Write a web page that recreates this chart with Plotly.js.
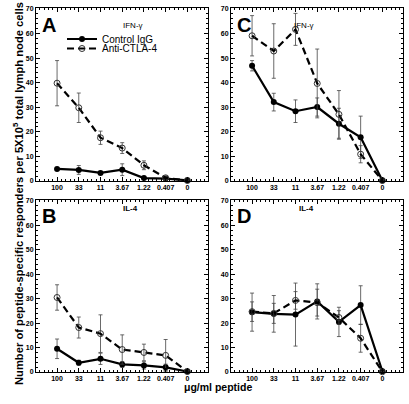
<!DOCTYPE html>
<html><head><meta charset="utf-8">
<script src="https://cdn.plot.ly/plotly-3.0.1.min.js"></script>
<style>html,body{margin:0;padding:0;background:#fff}#g{width:409px;height:404px}</style>
</head><body><div id="g"></div>
<script>
const conc = ['100','33','11','3.67','1.22','0.407','0'];
const idx = [0,1,2,3,4,5,6];
// Panel A: IFN-gamma (left)
const A_ctrl = [4.9, 4.5, 3.3, 4.6, 1.2, 1.0, 0.3];
const A_ctrl_err = [0.6, 1.8, 0.6, 2.4, 0.5, 0.5, 0.2];
const A_anti = [39.8, 29.8, 17.6, 13.4, 6.4, 1.3, 0.2];
const A_anti_err = [9.2, 6.0, 2.7, 2.2, 1.8, 0.6, 0.2];
// Panel C: IFN-gamma (right)
const C_ctrl = [46.9, 32.1, 28.4, 30.1, 23.3, 17.8, 0.2];
const C_ctrl_err = [2.1, 3.6, 4.6, 3.7, 6.3, 8.6, 0.3];
const C_anti = [59.1, 52.9, 61.7, 39.7, 27.1, 10.9, 0.2];
const C_anti_err = [8.2, 11.1, 6.5, 14.0, 9.7, 3.5, 0.3];
// Panel B: IL-4 (left)
const B_ctrl = [9.5, 3.8, 5.4, 3.1, 2.7, 1.9, 0.2];
const B_ctrl_err = [4.0, 1.0, 2.3, 1.2, 1.5, 1.3, 0.2];
const B_anti = [30.5, 18.2, 15.7, 9.2, 8.0, 6.8, 0.2];
const B_anti_err = [5.2, 4.3, 7.7, 6.0, 3.4, 6.5, 0.3];
// Panel D: IL-4 (right)
const D_ctrl = [24.5, 23.8, 23.5, 28.9, 20.5, 27.4, 0.3];
const D_ctrl_err = [7.8, 7.5, 12.9, 7.2, 6.0, 7.9, 0.3];
const D_anti = [24.7, 24.0, 29.3, 28.4, 22.3, 13.8, 0.1];
const D_anti_err = [4.0, 4.1, 3.6, 5.5, 2.8, 5.7, 0.2];

const panels = [
  {ctrl:A_ctrl, ce:A_ctrl_err, anti:A_anti, ae:A_anti_err, xa:'x', ya:'y'},
  {ctrl:C_ctrl, ce:C_ctrl_err, anti:C_anti, ae:C_anti_err, xa:'x2', ya:'y2'},
  {ctrl:B_ctrl, ce:B_ctrl_err, anti:B_anti, ae:B_anti_err, xa:'x3', ya:'y3'},
  {ctrl:D_ctrl, ce:D_ctrl_err, anti:D_anti, ae:D_anti_err, xa:'x4', ya:'y4'}
];
const errStyle = (arr)=>({type:'data', array:arr, visible:true, color:'#444', thickness:0.8, width:2});
const traces = [];
panels.forEach((p,i)=>{
  traces.push({x:idx, y:p.ctrl, xaxis:p.xa, yaxis:p.ya, type:'scatter', mode:'lines+markers',
    name:'Control IgG', showlegend:i===0, legend:'legend',
    line:{color:'#000', width:2.2}, marker:{symbol:'circle', size:6, color:'#000'},
    error_y:errStyle(p.ce), cliponaxis:false});
  traces.push({x:idx, y:p.anti, xaxis:p.xa, yaxis:p.ya, type:'scatter', mode:'lines+markers',
    name:'Anti-CTLA-4', showlegend:i===0, legend:'legend2',
    line:{color:'#000', width:2.2, dash:'7px,4px'}, marker:{symbol:'circle-open', size:6, color:'#333', line:{width:1}},
    error_y:errStyle(p.ae), cliponaxis:false});
});

const W = 367, H = 364, L = 36, T = 8;
const px = v => (v - L) / W;
const py = v => (T + H - v) / H;
const FF = 'Liberation Sans, Arial, sans-serif';

const xbase = {range:[-0.97, 6.95], tickmode:'array', tickvals:idx, ticktext:conc,
  showline:true, linecolor:'#000', linewidth:1, mirror:'ticks', ticks:'inside', ticklen:4, tickcolor:'#000',
  minor:{tickmode:'linear', tick0:0, dtick:0.2, ticks:'inside', ticklen:2, tickcolor:'#000'},
  showgrid:false, zeroline:false, tickfont:{family:FF, size:7, color:'#000', weight:'bold'}};
const ybase = {range:[0, 70.4], tickvals:[0,10,20,30,40,50,60,70],
  showline:true, linecolor:'#000', linewidth:1, mirror:'ticks', ticks:'inside', ticklen:4, tickcolor:'#000',
  minor:{tickmode:'linear', tick0:0, dtick:2, ticks:'inside', ticklen:2, tickcolor:'#000'},
  showgrid:false, zeroline:false, tickfont:{family:FF, size:7, color:'#000', weight:'bold'}};

const dxA = [px(36), px(208)], dxC = [px(231), px(403)];
const dyTop = [py(181), py(8)], dyBot = [py(372), py(200)];
const legBase = {xanchor:'left', yanchor:'middle', bgcolor:'rgba(0,0,0,0)',
    font:{family:FF, size:10, color:'#000'}, itemwidth:30, borderwidth:0};
const ann = (text, x, y, size, extra) => Object.assign({text, x:px(x), y:py(y), xref:'paper', yref:'paper', showarrow:false,
    font:{family:FF, size, color:'#000'}}, extra||{});
const layout = {
  width:409, height:404, margin:{l:L, r:409-L-W, t:T, b:404-T-H},
  paper_bgcolor:'#fff', plot_bgcolor:'#fff', showlegend:true,
  font:{family:FF, color:'#000'},
  xaxis:Object.assign({}, xbase, {domain:dxA, anchor:'y'}),
  yaxis:Object.assign({}, ybase, {domain:dyTop, anchor:'x'}),
  xaxis2:Object.assign({}, xbase, {domain:dxC, anchor:'y2'}),
  yaxis2:Object.assign({}, ybase, {domain:dyTop, anchor:'x2'}),
  xaxis3:Object.assign({}, xbase, {domain:dxA, anchor:'y3'}),
  yaxis3:Object.assign({}, ybase, {domain:dyBot, anchor:'x3'}),
  xaxis4:Object.assign({}, xbase, {domain:dxC, anchor:'y4'}),
  yaxis4:Object.assign({}, ybase, {domain:dyBot, anchor:'x4'}),
  legend:Object.assign({}, legBase, {x:px(62), y:py(39)}),
  legend2:Object.assign({}, legBase, {x:px(62), y:py(48.5)}),
  annotations:[
    ann('<b>A</b>', 40, 12, 20, {xanchor:'left', yanchor:'top'}),
    ann('<b>C</b>', 235, 12, 20, {xanchor:'left', yanchor:'top'}),
    ann('<b>B</b>', 40, 203, 20, {xanchor:'left', yanchor:'top'}),
    ann('<b>D</b>', 235, 203, 20, {xanchor:'left', yanchor:'top'}),
    ann('IFN-γ', 121, 19, 8),
    ann('IFN-γ', 316, 19, 8),
    ann('<b>IL-4</b>', 121, 208, 8),
    ann('<b>IL-4</b>', 316, 208, 8),
    ann('<b>Number of peptide-specific responders per 5X10<sup>5</sup> total lymph node cells</b>', 9, 194, 11.2, {textangle:-90}),
    ann('<b>μg/ml peptide</b>', 218, 395, 10.5)
  ]
};
Plotly.newPlot('g', traces, layout, {staticPlot:true, displayModeBar:false});
</script></body></html>
